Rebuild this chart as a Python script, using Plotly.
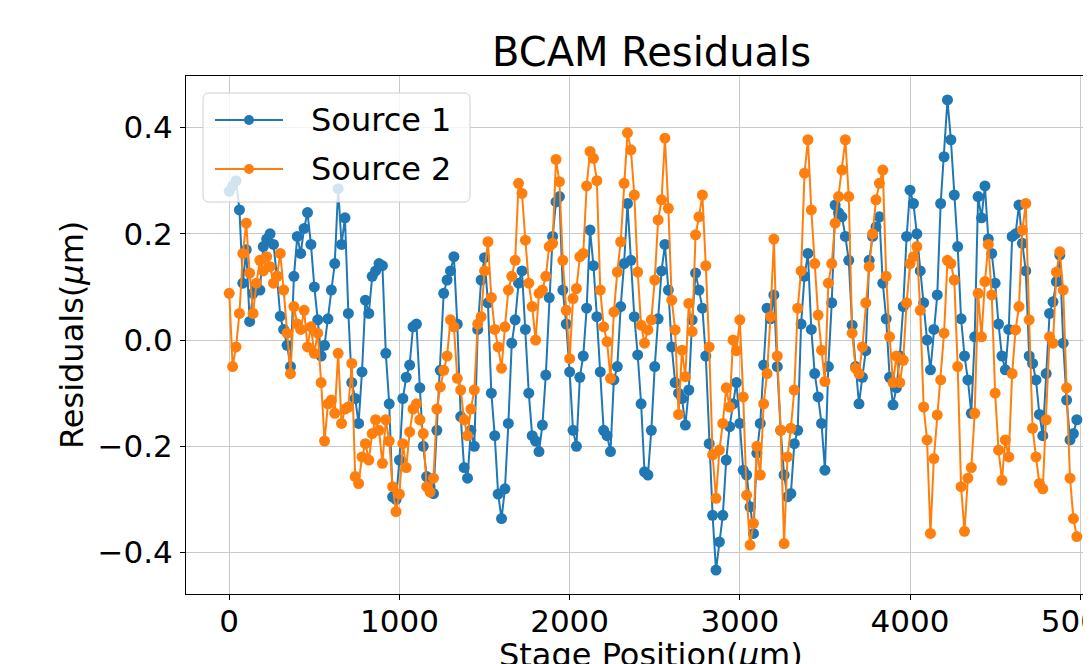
import plotly.graph_objects as go

# ---------------- data ----------------
STEP_UM = 20  # stage step between samples (µm)

source1 = [
    0.28, 0.29, 0.30, 0.245, 0.107, 0.17, 0.035, 0.088, 0.10, 0.094,
    0.176, 0.19, 0.20, 0.18, 0.12, 0.045, 0.02, -0.01, -0.05, 0.12,
    0.195, 0.163, 0.21, 0.24, 0.18, 0.10, 0.038, -0.03, -0.01, 0.04,
    0.094, 0.144, 0.285, 0.18, 0.23, 0.05, -0.08, -0.11, -0.157, -0.06,
    0.075, 0.05, 0.12, 0.13, 0.144, 0.14, -0.025, -0.12, -0.295, -0.30,
    -0.226, -0.11, -0.07, -0.047, 0.025, 0.03, -0.09, -0.20, -0.257, -0.276,
    -0.289, -0.17, -0.057, 0.088, 0.113, 0.13, 0.157, 0.03, -0.144, -0.24,
    -0.26, -0.17, -0.20, 0.02, 0.113, 0.155, 0.07, -0.10, -0.18, -0.29,
    -0.336, -0.28, -0.157, -0.006, 0.038, 0.107, 0.13, 0.02, -0.10, -0.18,
    -0.19, -0.21, -0.16, -0.066, 0.08, 0.195, 0.26, 0.27, 0.094, 0.03,
    -0.06, -0.17, -0.20, -0.07, -0.03, 0.06, 0.207, 0.14, 0.044, -0.06,
    -0.17, -0.18, -0.21, -0.075, -0.05, 0.063, 0.144, 0.257, 0.15, 0.044,
    -0.028, -0.12, -0.248, -0.254, -0.17, -0.05, 0.04, 0.13, 0.18, 0.094,
    -0.013, -0.08, -0.10, -0.11, -0.16, -0.094, 0.038, 0.126, 0.094, 0.06,
    -0.03, -0.195, -0.33, -0.433, -0.38, -0.33, -0.226, -0.163, -0.12, -0.08,
    -0.157, -0.245, -0.254, -0.314, -0.364, -0.213, -0.157, -0.047, 0.06, 0.04,
    0.085, -0.05, -0.17, -0.254, -0.295, -0.289, -0.195, -0.17, 0.03, 0.12,
    0.163, 0.02, -0.063, -0.107, -0.157, -0.245, -0.05, 0.07, 0.254, 0.24,
    0.232, 0.195, 0.15, 0.028, -0.05, -0.12, -0.07, -0.02, 0.15, 0.195,
    0.213, 0.232, 0.107, 0.04, -0.07, -0.122, -0.09, -0.03, 0.063, 0.195,
    0.282, 0.257, 0.2, 0.13, 0.07, 0.0, -0.056, 0.02, 0.085, 0.257,
    0.345, 0.452, 0.377, 0.273, 0.176, 0.04, -0.03, -0.075, -0.138, 0.006,
    0.27, 0.23, 0.29, 0.19, 0.163, 0.107, 0.03, -0.03, -0.056, 0.02,
    0.195, 0.2, 0.254, 0.182, 0.13, -0.03, -0.044, -0.075, -0.14, -0.18,
    -0.063, 0.05, 0.072, 0.11, 0.16, -0.006, -0.113, -0.188, -0.176, -0.15,
]

source2 = [
    0.088, -0.05, -0.013, 0.05, 0.163, 0.22, 0.126, 0.05, 0.107, 0.15,
    0.13, 0.157, 0.138, 0.107, 0.12, 0.163, 0.094, 0.013, -0.063, 0.063,
    0.03, 0.02, 0.056, -0.013, 0.025, -0.025, 0.013, -0.08, -0.19, -0.12,
    -0.113, -0.138, -0.025, -0.157, -0.13, -0.126, -0.044, -0.257, -0.27, -0.22,
    -0.195, -0.226, -0.176, -0.15, -0.17, -0.232, -0.15, -0.19, -0.276, -0.323,
    -0.29, -0.195, -0.24, -0.173, -0.13, -0.12, -0.15, -0.176, -0.276, -0.286,
    -0.26, -0.13, -0.088, -0.057, -0.03, 0.038, 0.025, -0.072, -0.094, -0.15,
    -0.18, -0.13, -0.094, 0.03, 0.044, 0.13, 0.185, 0.08, 0.02, -0.013,
    -0.053, 0.025, 0.094, 0.12, 0.15, 0.295, 0.276, 0.188, 0.107, 0.063,
    0.0, 0.088, 0.094, 0.12, 0.176, 0.182, 0.34, 0.298, 0.15, 0.056,
    -0.035, 0.078, 0.097, 0.157, 0.163, 0.29, 0.355, 0.342, 0.3, 0.094,
    0.025, -0.003, -0.072, 0.053, 0.128, 0.185, 0.295, 0.39, 0.358, 0.273,
    0.128, 0.028, -0.006, 0.019, 0.038, 0.113, 0.226, 0.264, 0.38, 0.248,
    0.075, 0.019, -0.14, -0.019, -0.069, 0.069, 0.016, 0.198, 0.232, 0.273,
    0.14, -0.013, -0.216, -0.298, -0.207, -0.157, -0.09, -0.126, 0.0, -0.02,
    0.038, -0.107, -0.292, -0.386, -0.345, -0.2, -0.254, -0.12, -0.063, 0.044,
    0.19, -0.03, -0.17, -0.383, -0.22, -0.166, -0.094, 0.06, 0.13, 0.314,
    0.377, 0.245, 0.144, 0.047, -0.019, -0.078, 0.107, 0.144, 0.22, 0.27,
    0.32, 0.377, 0.27, 0.013, -0.053, -0.063, -0.013, 0.07, 0.138, 0.2,
    0.264, 0.295, 0.32, 0.12, 0.006, -0.08, -0.03, -0.08, -0.038, 0.07,
    0.144, 0.157, 0.176, 0.056, -0.126, -0.188, -0.364, -0.223, -0.141, -0.075,
    0.013, 0.15, 0.144, 0.113, -0.05, -0.276, -0.36, -0.26, -0.24, -0.138,
    0.088, 0.006, 0.11, 0.18, 0.085, -0.1, -0.207, -0.264, -0.188, -0.22,
    -0.063, 0.019, 0.063, 0.207, 0.257, 0.038, -0.166, -0.22, -0.27, -0.28,
    -0.15, 0.006, -0.006, 0.128, 0.166, 0.094, -0.09, -0.26, -0.336, -0.37,
]

positions1 = [STEP_UM * i for i in range(len(source1))]
positions2 = [STEP_UM * i for i in range(len(source2))]

series_names = ["Source 1", "Source 2"]
x_tick_values = [0, 1000, 2000, 3000, 4000, 5000]
x_tick_labels = ["0", "1000", "2000", "3000", "4000", "5000"]
y_tick_values = [-0.4, -0.2, 0.0, 0.2, 0.4]
y_tick_labels = ["\u22120.4", "\u22120.2", "0.0", "0.2", "0.4"]

BLUE = "#1f77b4"
ORANGE = "#ff7f0e"
FONT = "DejaVu Sans"

# ---------------- layout geometry ----------------
# the page body adds an 8 px offset; page coordinates below account for it
OFF = 8
W, H = 1091, 664
L, T = 186 - OFF, 76 - OFF
B = H - (594 - OFF)
R = 0
PW, PH = W - L - R, H - T - B


def px2x(px):  # page pixel -> paper x
    return (px - OFF - L) / PW


def py2y(py):  # page pixel -> paper y
    return (H - B - (py - OFF)) / PH


fig = go.Figure()
for xs, ys, name, col in [(positions1, source1, series_names[0], BLUE),
                          (positions2, source2, series_names[1], ORANGE)]:
    fig.add_trace(go.Scatter(
        x=xs, y=ys, name=name, mode="lines+markers",
        line=dict(color=col, width=2),
        marker=dict(color=col, size=11),
        showlegend=False,
    ))

axis_common = dict(
    showgrid=True, gridcolor="#c9c9c9", gridwidth=1,
    showline=True, linecolor="black", linewidth=1,
    ticks="outside", ticklen=5, tickwidth=1, tickcolor="black",
    zeroline=False, tickfont=dict(family=FONT, size=31, color="black"),
    ticklabeloverflow="allow",
)

fig.update_layout(
    width=W, height=H,
    margin=dict(l=L, r=R, t=T, b=B, autoexpand=False),
    plot_bgcolor="white", paper_bgcolor="white",
    font=dict(family=FONT, color="black"),
    showlegend=False,
    xaxis=dict(range=[-254, -254 + PW / 0.1702], tickmode="array",
               tickvals=x_tick_values, ticktext=x_tick_labels,
               mirror=True, ticklabelstandoff=-5, **axis_common),
    yaxis=dict(range=[-0.478, 0.497], tickmode="array",
               tickvals=y_tick_values, ticktext=y_tick_labels,
               mirror=False, ticklabelstandoff=1, **axis_common),
)

# ---------------- titles ----------------
fig.add_annotation(text="BCAM Residuals", xref="paper", yref="paper",
                   x=px2x(651), y=py2y(52), xanchor="center", yanchor="middle",
                   showarrow=False, font=dict(family=FONT, size=40, color="black"))
fig.add_annotation(text="Stage Position(<i>\u03bc</i>m)", xref="paper", yref="paper",
                   x=px2x(651), y=py2y(634), xanchor="center", yanchor="top",
                   showarrow=False, font=dict(family=FONT, size=32, color="black"))
fig.add_annotation(text="Residuals(<i>\u03bc</i>m)", xref="paper", yref="paper",
                   x=px2x(72), y=py2y(335), xanchor="center", yanchor="middle",
                   textangle=-90, showarrow=False,
                   font=dict(family=FONT, size=32, color="black"))

# ---------------- legend (drawn like matplotlib's) ----------------
x0, x1, y0, y1, r = 203, 470, 93, 202, 6
rx, ry = r / PW, r / PH
X0, X1, Y0, Y1 = px2x(x0), px2x(x1), py2y(y1), py2y(y0)
path = (f"M {X0+rx},{Y0} L {X1-rx},{Y0} Q {X1},{Y0} {X1},{Y0+ry} "
        f"L {X1},{Y1-ry} Q {X1},{Y1} {X1-rx},{Y1} L {X0+rx},{Y1} "
        f"Q {X0},{Y1} {X0},{Y1-ry} L {X0},{Y0+ry} Q {X0},{Y0} {X0+rx},{Y0} Z")
fig.add_shape(type="path", path=path, xref="paper", yref="paper", layer="above",
              fillcolor="rgba(255,255,255,0.8)", line=dict(color="#d0d0d0", width=1))

for row_y, col, name in [(120, BLUE, series_names[0]), (169, ORANGE, series_names[1])]:
    fig.add_shape(type="line", xref="paper", yref="paper", layer="above",
                  x0=px2x(215), x1=px2x(283), y0=py2y(row_y), y1=py2y(row_y),
                  line=dict(color=col, width=2))
    fig.add_shape(type="circle", xref="paper", yref="paper", layer="above",
                  x0=px2x(249 - 5), x1=px2x(249 + 5),
                  y0=py2y(row_y + 5), y1=py2y(row_y - 5),
                  fillcolor=col, line=dict(color=col, width=0))
    fig.add_annotation(text=name, xref="paper", yref="paper",
                       x=px2x(309), y=py2y(row_y), xanchor="left", yanchor="middle",
                       showarrow=False, font=dict(family=FONT, size=32, color="black"))

fig.write_html("out.html")
